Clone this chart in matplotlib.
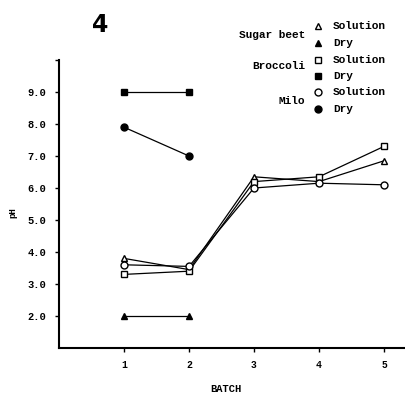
import matplotlib
matplotlib.use("Agg")
import matplotlib.pyplot as plt
from matplotlib.lines import Line2D

batches = [1, 2, 3, 4, 5]
batches_dry = [1, 2]

sugar_beet_solution = [3.8, 3.45, 6.35, 6.2, 6.85]
broccoli_solution = [3.3, 3.4, 6.2, 6.35, 7.3]
milo_solution = [3.6, 3.55, 6.0, 6.15, 6.1]

sugar_beet_dry = [2.0, 2.0]
broccoli_dry = [9.0, 9.0]
milo_dry = [7.9, 7.0]

ytick_vals = [2.0, 3.0, 4.0, 5.0, 6.0, 7.0, 8.0, 9.0]
ytick_labels = ["2.0", "3.0", "4.0", "5.0", "6.0", "7.0", "8.0", "9.0"]
xtick_labels = ["1", "2", "3", "4", "5"]

mono = ["Liberation Mono", "DejaVu Sans Mono"]

fig = plt.figure(figsize=(4.05, 3.94), dpi=100)
ax = fig.add_axes([59/405, 1-348/394, 1-59/405, (348-60)/394])

lw = 0.9
ms = 5
ax.plot(batches, sugar_beet_solution, '-', marker='^', color='black', mfc='white', mec='black', lw=lw, ms=ms)
ax.plot(batches, broccoli_solution, '-', marker='s', color='black', mfc='white', mec='black', lw=lw, ms=ms)
ax.plot(batches, milo_solution, '-', marker='o', color='black', mfc='white', mec='black', lw=lw, ms=ms)
ax.plot(batches_dry, sugar_beet_dry, '-', marker='^', color='black', lw=lw, ms=ms)
ax.plot(batches_dry, broccoli_dry, '-', marker='s', color='black', lw=lw, ms=ms)
ax.plot(batches_dry, milo_dry, '-', marker='o', color='black', lw=lw, ms=ms)

ax.set_xlim(0, 346/65)
ax.set_ylim(1.0, 10.0)
ax.set_xticks(batches)
ax.set_xticklabels(xtick_labels, fontfamily=mono, fontweight='bold', fontsize=7)
ax.set_yticks(ytick_vals + [10.0])
ax.set_yticklabels(ytick_labels + [""], fontfamily=mono, fontweight='bold', fontsize=7.5)
ax.tick_params(axis='both', direction='out', length=3, width=1, pad=6)
for s in ['top', 'right']:
    ax.spines[s].set_visible(False)
for s in ['left', 'bottom']:
    ax.spines[s].set_linewidth(1.5)
ax.set_facecolor('none')

fig.text(13/405, 1-213/394, "pH", fontfamily=mono, fontsize=6.5, fontweight='bold', rotation=90, ha='center', va='center')
fig.text(226/405, 1-389/394, "BATCH", fontfamily=mono, fontsize=7.5, fontweight='bold', ha='center', va='center')

fig.text(100/405, 1-25/394, "4", fontsize=17, fontweight='bold', family='DejaVu Sans', ha='center', va='center')

# legend
groups = [("Sugar beet", 35, '^', 26, 43), ("Broccoli", 66, 's', 60, 76), ("Milo", 101, 'o', 92, 109)]
for label, ly, mk, ys, yd in groups:
    fig.text(305/405, 1-ly/394, label, fontfamily=mono, fontsize=8, fontweight='bold', ha='right', va='center')
    fig.add_artist(Line2D([318/405], [1-ys/394], marker=mk, color='black', mfc='white', ms=ms, ls='none'))
    fig.add_artist(Line2D([318/405], [1-yd/394], marker=mk, color='black', ms=ms, ls='none'))
    fig.text(333/405, 1-ys/394, "Solution", fontfamily=mono, fontsize=8, fontweight='bold', ha='left', va='center')
    fig.text(333/405, 1-yd/394, "Dry", fontfamily=mono, fontsize=8, fontweight='bold', ha='left', va='center')

fig.savefig("out.png", dpi=100)
